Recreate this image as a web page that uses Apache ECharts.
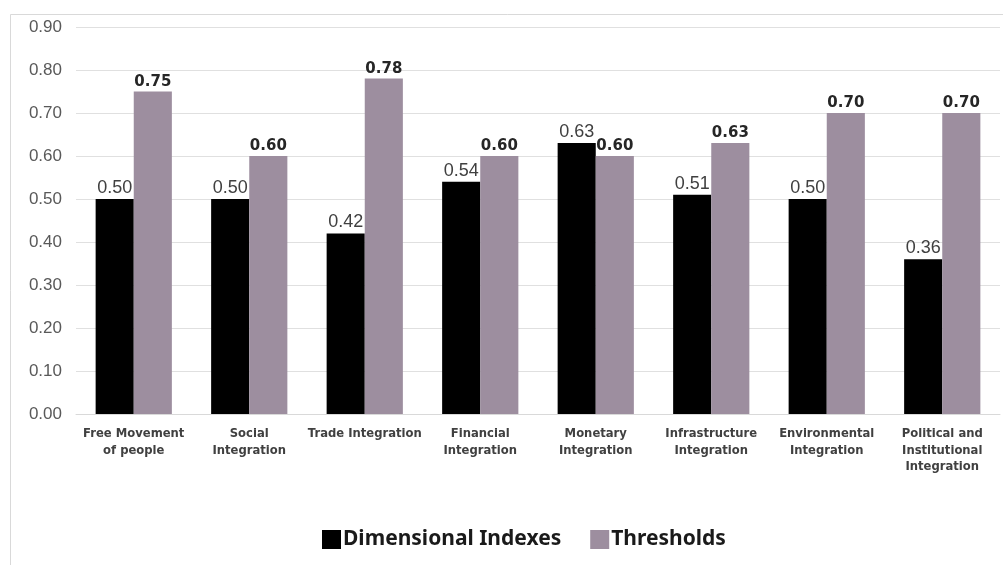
<!DOCTYPE html>
<html>
<head>
<meta charset="utf-8">
<script src="https://cdn.jsdelivr.net/npm/echarts@6/dist/echarts.min.js"></script>
<style>
  html, body { margin: 0; padding: 0; background: #ffffff; }
  #chart { width: 1003px; height: 565px; }
</style>
</head>
<body>
<div id="chart"></div>
<script>
// Integration dimensions shown along the x axis
const categories = [
  'Free Movement\nof people',
  'Social\nIntegration',
  'Trade Integration',
  'Financial\nIntegration',
  'Monetary\nIntegration',
  'Infrastructure\nIntegration',
  'Environmental\nIntegration',
  'Political and\nInstitutional\nIntegration'
];

// Measured index for each dimension
const dimensionalIndexes = [0.50, 0.50, 0.42, 0.54, 0.63, 0.51, 0.50, 0.36];

// Target threshold for each dimension
const thresholds = [0.75, 0.60, 0.78, 0.60, 0.60, 0.63, 0.70, 0.70];

const seriesNames = ['Dimensional Indexes', 'Thresholds'];

const chart = echarts.init(document.getElementById('chart'), null, { renderer: 'canvas' });

chart.setOption({
  animation: false,
  backgroundColor: '#ffffff',
  graphic: [{
    type: 'rect',
    left: 8,
    top: 12,
    shape: { width: 1010, height: 570 },
    style: { fill: 'none', stroke: '#d9d9d9', lineWidth: 1 },
    silent: true
  }],
  grid: { left: 76, right: 3, top: 27, bottom: 151, containLabel: false },
  legend: {
    data: seriesNames,
    left: 317,
    top: 524,
    icon: 'rect',
    itemWidth: 19,
    itemHeight: 19,
    itemGap: 29,
    textStyle: { fontFamily: 'Noto Sans', fontWeight: 'bold', fontSize: 21, color: '#1a1a1a', padding: [0, 0, 0, -3] }
  },
  xAxis: {
    type: 'category',
    data: categories,
    axisLine: { lineStyle: { color: '#d9d9d9', width: 1 } },
    axisTick: { show: false },
    axisLabel: {
      interval: 0,
      margin: 12,
      fontFamily: 'DejaVu Sans',
      fontWeight: 'bold',
      fontSize: 11.6,
      lineHeight: 16.5,
      color: '#404040'
    }
  },
  yAxis: {
    type: 'value',
    min: 0,
    max: 0.9,
    interval: 0.1,
    axisLine: { show: false },
    axisTick: { show: false },
    splitLine: { lineStyle: { color: '#e0e0e0', width: 1 } },
    axisLabel: {
      margin: 14,
      fontFamily: 'Liberation Sans',
      fontSize: 17,
      color: '#595959',
      formatter: v => v.toFixed(2)
    }
  },
  series: [
    {
      name: seriesNames[0],
      type: 'bar',
      data: dimensionalIndexes,
      barWidth: '33%',
      barGap: '0%',
      itemStyle: { color: '#000000' },
      label: {
        show: true,
        position: 'top',
        distance: 2,
        fontFamily: 'Liberation Sans',
        fontSize: 18,
        color: '#404040',
        formatter: p => p.value.toFixed(2)
      }
    },
    {
      name: seriesNames[1],
      type: 'bar',
      data: thresholds,
      barWidth: '33%',
      barGap: '0%',
      itemStyle: { color: '#9d8e9f' },
      label: {
        show: true,
        position: 'top',
        distance: 2,
        fontFamily: 'DejaVu Sans',
        fontWeight: 'bold',
        fontSize: 15,
        color: '#262626',
        formatter: p => p.value.toFixed(2)
      }
    }
  ]
});
</script>
</body>
</html>
